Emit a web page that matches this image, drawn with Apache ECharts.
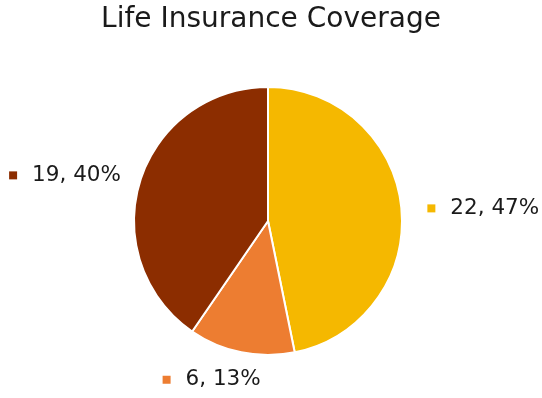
<!DOCTYPE html>
<html>
<head>
<meta charset="utf-8">
<script src="https://cdn.jsdelivr.net/npm/echarts@6/dist/echarts.min.js"></script>
<style>
  html, body { margin: 0; padding: 0; background: #fff; }
  #chart { width: 542px; height: 398px; }
</style>
</head>
<body>
<div id="chart"></div>
<script>
// Life insurance coverage counts
const categories = ['Covered A', 'Covered B', 'Covered C'];
const values = [22, 6, 19];
const colors = ['#F5B800', '#ED7D31', '#8C2D00'];

const FONT = 'DejaVu Sans';

// per-slice label placement along the leader line (line itself hidden)
const lineLen = [-8, 28, 20];
const lineLen2 = [29, -30, -5];

const rich = {};
colors.forEach((c, i) => {
  rich['m' + i] = { width: 8, height: 8, backgroundColor: c };
});
rich.t = { fontSize: 21.5, color: '#1a1a1a', fontFamily: FONT, padding: [0, 0, 0, 15] };

const data = values.map((v, i) => ({
  name: categories[i],
  value: v,
  itemStyle: { color: colors[i] },
  labelLine: { show: false, length: lineLen[i], length2: lineLen2[i] }
}));

const chart = echarts.init(document.getElementById('chart'));
chart.setOption({
  animation: false,
  title: {
    text: 'Life Insurance Coverage',
    left: 'center',
    top: 1,
    textStyle: { fontFamily: FONT, fontSize: 28, fontWeight: 'normal', color: '#1a1a1a' }
  },
  series: [{
    type: 'pie',
    center: [268, 221],
    radius: 134,
    startAngle: 90,
    clockwise: true,
    avoidLabelOverlap: false,
    percentPrecision: 0,
    itemStyle: { borderColor: '#ffffff', borderWidth: 2 },
    label: {
      show: true,
      position: 'outside',
      distanceToLabelLine: 5,
      formatter: p => '{m' + p.dataIndex + '|}{t|' + p.value + ', ' + p.percent + '%}',
      rich: rich
    },
    labelLine: { show: false },
    data: data
  }]
});
</script>
</body>
</html>
